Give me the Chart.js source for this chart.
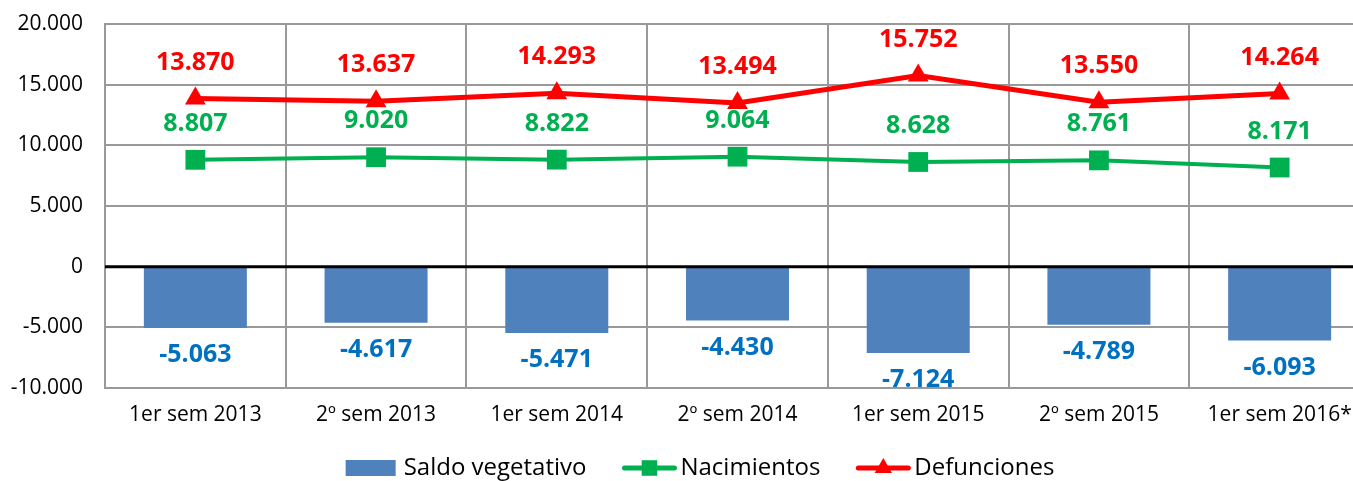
<!DOCTYPE html>
<html>
<head>
<meta charset="utf-8">
<script src="https://cdn.jsdelivr.net/npm/chart.js@4"></script>
<style>
  html, body { margin: 0; padding: 0; overflow: hidden; background: #fff; }
</style>
</head>
<body>
<canvas id="chart" width="1375" height="481"></canvas>
<script>
const categories = ['1er sem 2013', '2º sem 2013', '1er sem 2014', '2º sem 2014', '1er sem 2015', '2º sem 2015', '1er sem 2016*'];
const saldo = [-5063, -4617, -5471, -4430, -7124, -4789, -6093];
const nacimientos = [8807, 9020, 8822, 9064, 8628, 8761, 8171];
const defunciones = [13870, 13637, 14293, 13494, 15752, 13550, 14264];
const yTicks = [20000, 15000, 10000, 5000, 0, -5000, -10000];

const fmt = v => v.toLocaleString('de-DE');
const FONT = '"Open Sans", sans-serif';

// value labels + zero line
const labelPlugin = {
    id: 'valueLabels',
    afterDatasetsDraw(chart) {
        const ctx = chart.ctx;
        const y = chart.scales.y;
        const area = chart.chartArea;
        // black zero line
        const y0 = y.getPixelForValue(0);
        ctx.save();
        ctx.strokeStyle = '#000';
        ctx.lineWidth = 3;
        ctx.beginPath();
        ctx.moveTo(area.left, y0);
        ctx.lineTo(area.right, y0);
        ctx.stroke();

        ctx.font = 'bold 25px ' + FONT;
        ctx.textAlign = 'center';
        ctx.textBaseline = 'middle';
        chart.data.datasets.forEach((ds, i) => {
            const meta = chart.getDatasetMeta(i);
            meta.data.forEach((el, j) => {
                ctx.fillStyle = ds.labelColor;
                const off = ds.type === 'line' ? -36 : 27;
                ctx.fillText(fmt(ds.data[j]), el.x, el.y + off);
            });
        });
        ctx.restore();
    }
};

// legend with line + marker
const legendPlugin = {
    id: 'customLegend',
    afterDraw(chart) {
        const ctx = chart.ctx;
        ctx.save();
        ctx.font = '24px ' + FONT;
        ctx.textBaseline = 'middle';
        const items = chart.data.datasets.map(ds => ({ ds, w: ctx.measureText(ds.label).width }));
        const iconW = 54, gapIcon = 4, gapItem = 36;
        let total = 0;
        items.forEach((it, k) => { total += iconW + gapIcon + it.w + (k ? gapItem : 0); });
        let x = 700 - total / 2;
        const yc = 468;
        items.forEach(it => {
            const ds = it.ds;
            if (ds.type === 'line') {
                ctx.strokeStyle = ds.borderColor;
                ctx.lineWidth = 5;
                ctx.lineCap = 'round';
                ctx.beginPath();
                ctx.moveTo(x + 2, yc);
                ctx.lineTo(x + iconW - 2, yc);
                ctx.stroke();
                ctx.fillStyle = ds.borderColor;
                Chart.helpers.drawPoint(ctx, { pointStyle: ds.pointStyle, radius: ds.pointStyle === 'rect' ? 11 : 10, borderWidth: 0 }, x + iconW / 2, yc);
            } else {
                ctx.fillStyle = ds.backgroundColor;
                ctx.fillRect(x, yc - 8, iconW - 4, 16);
            }
            x += iconW + gapIcon;
            ctx.fillStyle = '#000';
            ctx.fillText(ds.label, x, yc);
            x += it.w + gapItem;
        });
        ctx.restore();
    }
};

new Chart(document.getElementById('chart').getContext('2d'), {
    type: 'bar',
    data: {
        labels: categories,
        datasets: [
            {
                type: 'bar',
                label: 'Saldo vegetativo',
                data: saldo,
                backgroundColor: '#4F81BD',
                labelColor: '#0070C0',
                categoryPercentage: 1,
                barPercentage: 0.57,
                order: 2
            },
            {
                type: 'line',
                label: 'Nacimientos',
                data: nacimientos,
                borderColor: '#00B050',
                backgroundColor: '#00B050',
                labelColor: '#00B050',
                borderWidth: 4,
                pointStyle: 'rect',
                pointRadius: 14,
                pointBorderWidth: 0,
                order: 1
            },
            {
                type: 'line',
                label: 'Defunciones',
                data: defunciones,
                borderColor: '#FF0000',
                backgroundColor: '#FF0000',
                labelColor: '#FF0000',
                borderWidth: 5,
                pointStyle: 'triangle',
                pointRadius: 12,
                pointBorderWidth: 0,
                order: 0
            }
        ]
    },
    options: {
        responsive: false,
        animation: false,
        layout: { autoPadding: false, padding: { top: 24, right: 5, left: 0, bottom: 0 } },
        plugins: {
            legend: { display: false },
            tooltip: { enabled: false }
        },
        scales: {
            x: {
                offset: true,
                grid: { offset: true, color: '#999', lineWidth: 2, drawTicks: false },
                border: { color: '#999', width: 2 },
                ticks: { color: '#000', font: { family: FONT, size: 21 }, padding: 14, maxRotation: 0 },
                afterFit: s => { s.height = 93; s.paddingLeft = 0; s.paddingRight = 0; }
            },
            y: {
                min: -10000,
                max: 20000,
                afterBuildTicks: s => { s.ticks = yTicks.map(v => ({ value: v })); },
                grid: { color: '#999', lineWidth: 2, drawTicks: false },
                border: { color: '#999', width: 2 },
                ticks: { color: '#000', font: { family: FONT, size: 21 }, padding: 22, callback: v => fmt(v) },
                afterFit: s => { s.width = 105; s.paddingTop = 0; s.paddingBottom = 0; }
            }
        }
    },
    plugins: [labelPlugin, legendPlugin]
});
</script>
</body>
</html>
